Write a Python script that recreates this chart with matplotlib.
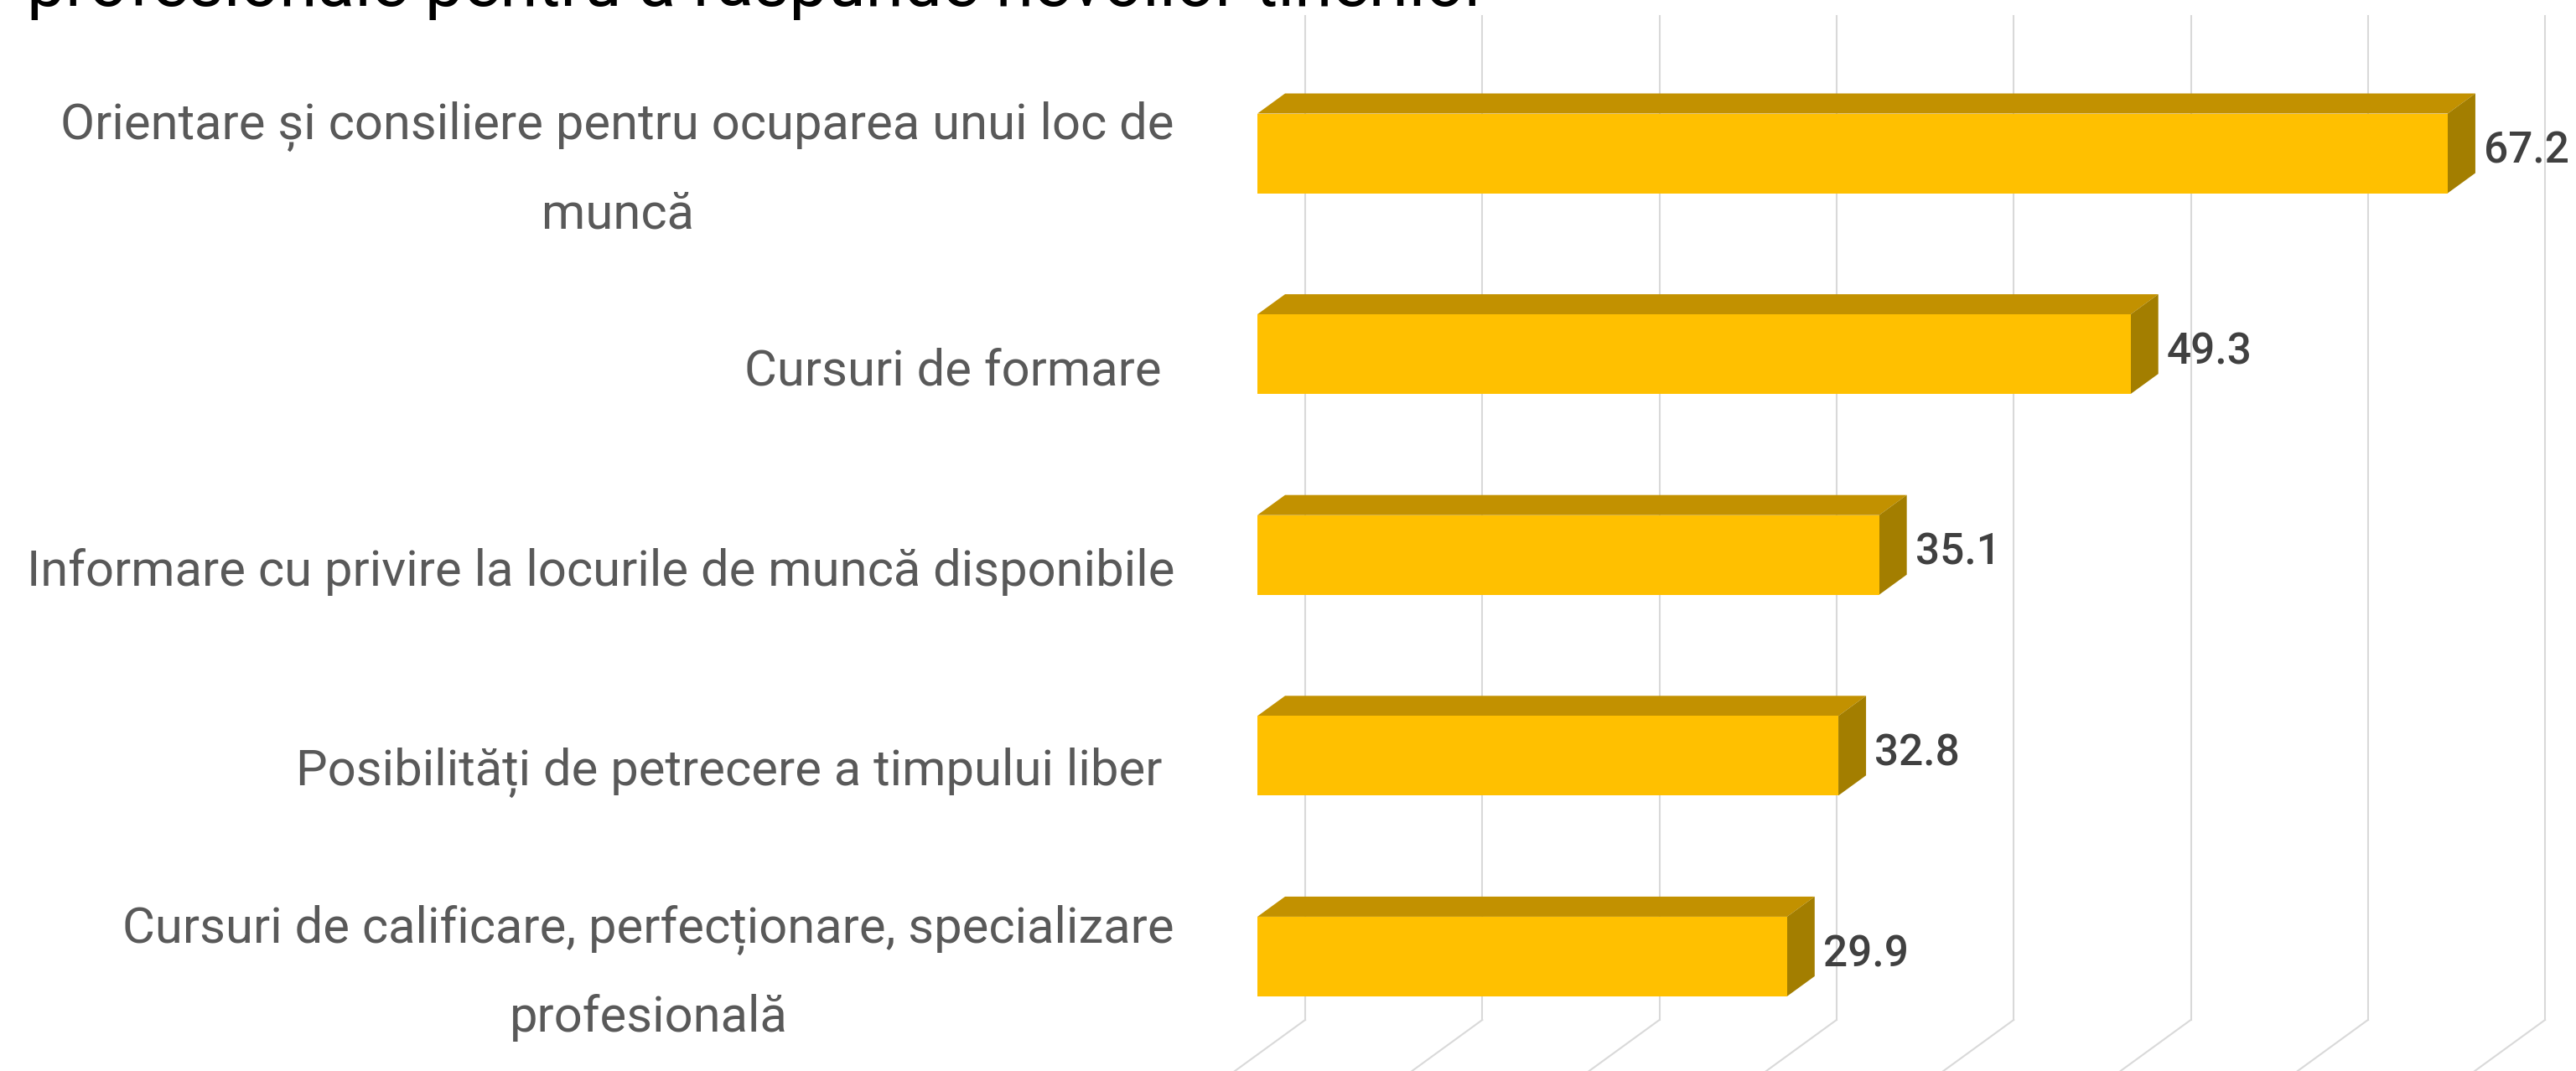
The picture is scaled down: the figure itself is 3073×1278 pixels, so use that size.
"""Recreate the Excel-style 3D horizontal bar chart (youth services)."""

import matplotlib
matplotlib.use('Agg')
import matplotlib.pyplot as plt
from matplotlib.patches import Polygon, Rectangle

plt.rcParams['font.family'] = ['Roboto', 'DejaVu Sans']

# --- data -----------------------------------------------------------------
title_line = 'profesionale pentru a răspunde nevoilor tinerilor'
categories = [
    'Orientare și consiliere pentru ocuparea unui loc de\nmuncă',
    'Cursuri de formare ',
    'Informare cu privire la locurile de muncă disponibile',
    'Posibilități de petrecere a timpului liber ',
    'Cursuri de calificare, perfecționare, specializare\nprofesională',
]
values = [67.2, 49.3, 35.1, 32.8, 29.9]
axis_max = 70
axis_step = 10

# --- layout (pixels of the 3073x1278 canvas) -------------------------------
W, H = 3073, 1278
X0_PX = 1500          # front face of bars at value 0
PX_PER_UNIT = 21.13   # horizontal scale
Y0_PX = 183           # centre of first bar front face
PX_PER_ROW = 239.6

BAR_H = 95 / PX_PER_ROW
DEPTH_X = 33 / PX_PER_UNIT        # bar depth offset (to the back)
DEPTH_Y = -24 / PX_PER_ROW
WALL_X = 57 / PX_PER_UNIT         # back wall offset from bar front
GRID_TOP = (19 - Y0_PX) / PX_PER_ROW
GRID_BOT = (1217 - Y0_PX) / PX_PER_ROW

FRONT = '#FFC000'
TOP = '#C29100'
SIDE = '#A37E00'
GRID = '#D9D9D9'

fig = plt.figure(figsize=(W / 100, H / 100), dpi=100)
ax = fig.add_axes([0, 0, 1, 1])
ax.set_xlim(-X0_PX / PX_PER_UNIT, (W - X0_PX) / PX_PER_UNIT)
ax.set_ylim((H - Y0_PX) / PX_PER_ROW, -Y0_PX / PX_PER_ROW)
ax.axis('off')

# gridlines on the back wall and floor
for g in range(0, axis_max + 1, axis_step):
    gx = g + WALL_X
    ax.plot([gx, gx], [GRID_TOP, GRID_BOT], color=GRID, lw=1.5, zorder=1)
    ax.plot([gx, gx - 3 * DEPTH_X], [GRID_BOT, GRID_BOT - 3 * DEPTH_Y],
            color=GRID, lw=1.5, zorder=1)

# bars
for i, v in enumerate(values):
    top_y = i - BAR_H / 2
    bot_y = i + BAR_H / 2
    ax.add_patch(Polygon([(0, top_y), (DEPTH_X, top_y + DEPTH_Y),
                          (v + DEPTH_X, top_y + DEPTH_Y), (v, top_y)],
                         closed=True, facecolor=TOP, edgecolor='none', zorder=3))
    ax.add_patch(Polygon([(v, top_y), (v + DEPTH_X, top_y + DEPTH_Y),
                          (v + DEPTH_X, bot_y + DEPTH_Y), (v, bot_y)],
                         closed=True, facecolor=SIDE, edgecolor='none', zorder=3))
    ax.add_patch(Rectangle((0, top_y), v, BAR_H, facecolor=FRONT,
                           edgecolor='none', zorder=4))
    ax.text(v + DEPTH_X + 10 / PX_PER_UNIT, i - 0.01, f'{v:.1f}',
            ha='left', va='center', fontsize=37, color='#404040',
            fontweight='medium', zorder=5)

# category labels
for i, cat in enumerate(categories):
    ax.text(-99 / PX_PER_UNIT, i + 20 / PX_PER_ROW, cat, ha='right',
            va='center', multialignment='center', fontsize=43,
            color='#595959', linespacing=2.03)

# title (only its last line is visible in the frame)
fig.text(32 / W, 1 - 7 / H, title_line, ha='left', va='baseline',
         fontsize=59, color='black')

fig.savefig('out.png', dpi=100)
plt.close(fig)
